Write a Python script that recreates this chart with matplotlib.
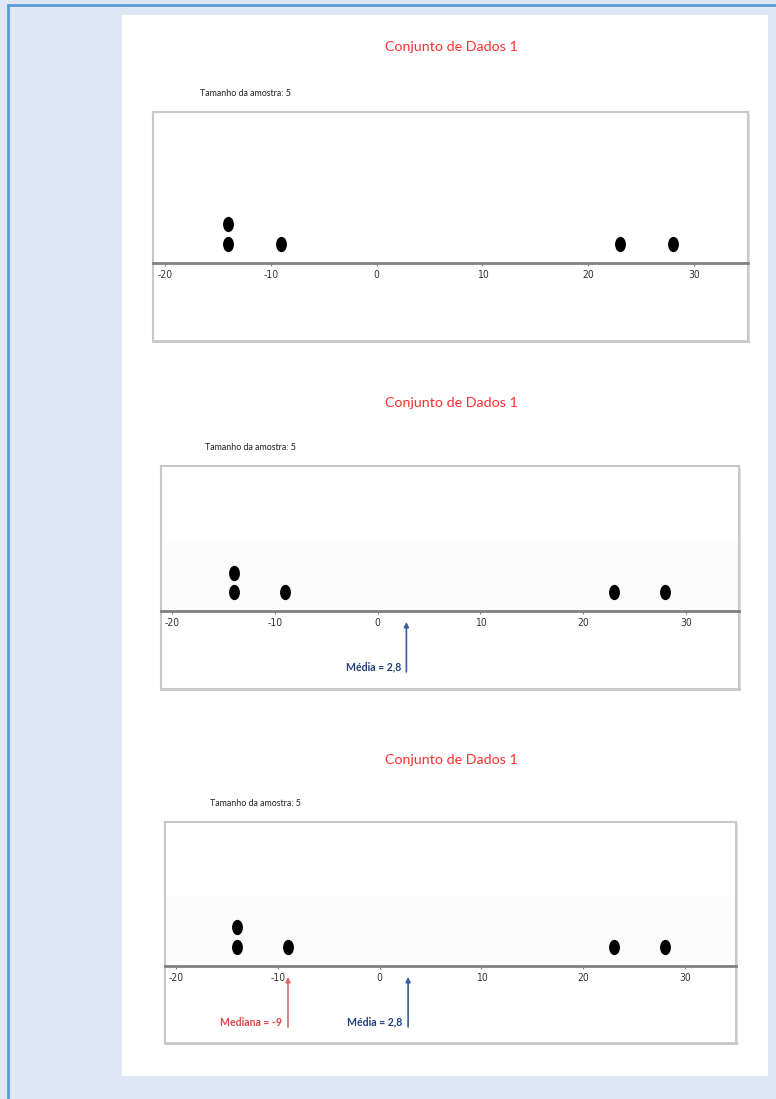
import numpy as np
import matplotlib
matplotlib.use('Agg')
import matplotlib.pyplot as plt
from matplotlib.patches import Rectangle
from matplotlib.path import Path
from matplotlib.transforms import Affine2D

# data
values = [-14, -14, -9, 23, 28]
title = 'Conjunto de Dados 1'
n_label = 'Tamanho da amostra: 5'
xticks = [-20, -10, 0, 10, 20, 30]
mean_val = np.mean(values)      # 2,8
median_val = np.median(values)  # -9

W, H = 776, 1099
fig = plt.figure(figsize=(W / 100, H / 100), dpi=100)
fig.patch.set_facecolor('#dde8f4')


def fx(x):
    return x / W


def fy(y):
    return 1 - y / H


# outer blue frame and white page
fig.patches.append(Rectangle((fx(8), fy(1120)), fx(800), fy(5) - fy(1120),
                             transform=fig.transFigure, fill=False,
                             edgecolor='#5b9bd5', lw=2, clip_on=False, zorder=-10))
fig.patches.append(Rectangle((fx(122), fy(1076)), fx(768 - 122), fy(15) - fy(1076),
                             transform=fig.transFigure, facecolor='white',
                             edgecolor='none', zorder=-9))

# panel layout in pixels: box (l, t, r, b), axis line y, x of -20 and 30, px per stack level
panels = [
    dict(box=(153, 112, 748, 341), axis_y=263, xa=165, xb=694, lvl=19.5,
         title_y=47, n_xy=(200, 94), arrows=[]),
    dict(box=(161, 466, 739, 689), axis_y=611, xa=172, xb=686, lvl=18.8,
         title_y=403, n_xy=(205, 448), arrows=['mean']),
    dict(box=(165, 822, 736, 1043), axis_y=966, xa=176, xb=685, lvl=19.5,
         title_y=760, n_xy=(210, 803), arrows=['median', 'mean']),
]

ellipse = Path.unit_circle().transformed(Affine2D().scale(0.68, 1.0))

# stack levels for repeated values
levels = []
seen = {}
for v in values:
    seen[v] = seen.get(v, 0) + 1
    levels.append(seen[v])

for p in panels:
    l, t, r, b = p['box']
    # shadow behind the box
    fig.patches.append(Rectangle((fx(l + 2), fy(b + 2)), fx(r - l), fy(t + 2) - fy(b + 2),
                                 transform=fig.transFigure, facecolor='#e2e2e2',
                                 edgecolor='none', zorder=-8))
    ax = fig.add_axes([fx(l), fy(b), fx(r - l), fy(t) - fy(b)])
    ax.set_facecolor('white')
    scale = (p['xb'] - p['xa']) / 50.0
    ax.set_xlim(-20 - (p['xa'] - l) / scale, 30 + (r - p['xb']) / scale)
    lv = p['lvl']
    ax.set_ylim(-(b - p['axis_y']) / lv, (p['axis_y'] - t) / lv)

    for s in ['top', 'left', 'right']:
        ax.spines[s].set_color('#c8c8c8')
        ax.spines[s].set_linewidth(1.5)
    # box bottom edge
    ax.axhline(ax.get_ylim()[0], color='#c8c8c8', lw=2, clip_on=False)

    if p['arrows']:
        ax.axhspan(0, 3.6, color='#fbfbfb', lw=0, zorder=0)

    # number line is the bottom spine moved to y=0
    ax.spines['bottom'].set_position(('data', 0))
    ax.spines['bottom'].set_color('#808080')
    ax.spines['bottom'].set_linewidth(2)
    ax.set_xticks(xticks)
    ax.set_xticklabels([str(v) for v in xticks])
    ax.set_yticks([])
    ax.tick_params(axis='x', direction='out', length=2, width=0.8, color='#808080',
                   pad=3, labelsize=7.5, labelcolor='#333333')
    for lab in ax.get_xticklabels():
        lab.set_fontfamily(['Liberation Sans Narrow', 'DejaVu Sans'])
        lab.set_fontstretch('condensed')

    ax.plot(values, levels, linestyle='none', marker=ellipse, markersize=10,
            color='black')

    for kind in p['arrows']:
        if kind == 'mean':
            xv, col, tcol, txt, ty = mean_val, '#3a5f9a', '#1f3f7a', 'Média = 2,8', 56
        else:
            xv, col, tcol, txt, ty = median_val, '#e06868', '#d84848', 'Mediana = -9', 57
        ax.annotate('', xy=(xv, -11 / lv), xytext=(xv, -61 / lv),
                    arrowprops=dict(arrowstyle='-|>', color=col, lw=1.2,
                                    mutation_scale=7, shrinkA=0, shrinkB=0))
        ax.annotate(txt, xy=(xv, -ty / lv), xytext=(-4, 0), textcoords='offset points',
                    ha='right', va='center', fontsize=7.6, fontweight='bold',
                    color=tcol, family=['Lato', 'DejaVu Sans'])

    fig.text(fx(451), fy(p['title_y']), title, ha='center', va='center',
             fontsize=10.3, color='#ff3030', family=['Lato', 'DejaVu Sans'])
    fig.text(fx(p['n_xy'][0]), fy(p['n_xy'][1]), n_label, ha='left', va='center',
             fontsize=6.4, color='#222222', family=['Lato', 'DejaVu Sans'])

fig.savefig('out.png', dpi=100, facecolor=fig.get_facecolor())
